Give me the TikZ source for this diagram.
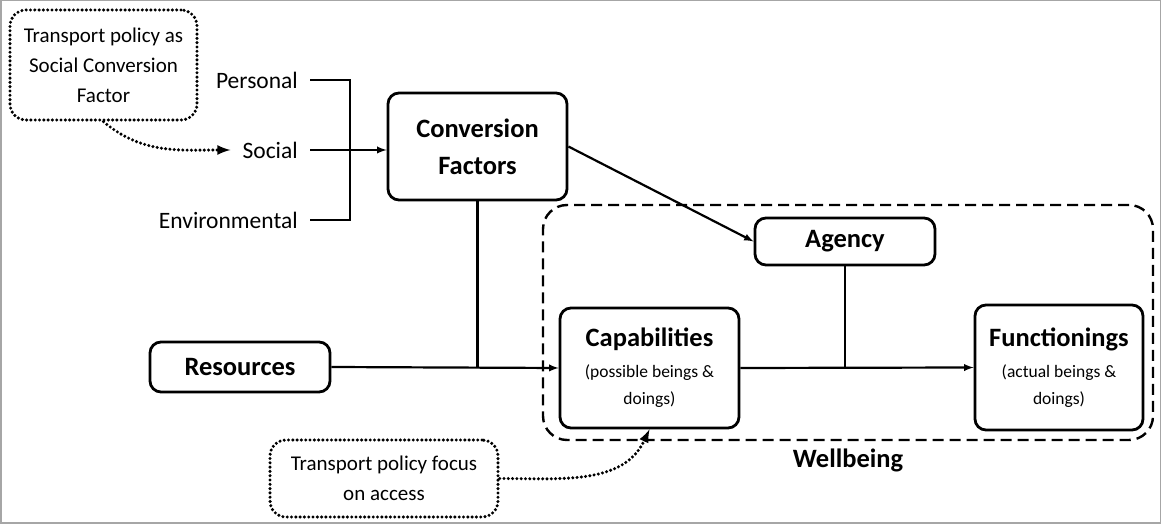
\documentclass[tikz,border=0pt]{standalone}
\usepackage{fontspec}
\setmainfont{Carlito}
\usetikzlibrary{arrows,positioning}
\tikzset{%
	block/.style    = {draw, rectangle, rounded corners=11pt, line width=2.8pt, align=center, inner sep=0pt},
	factor/.style   = {font=\fontsize{23.5}{28}\selectfont, inner xsep=12pt, inner ysep=0pt},
	note/.style     = {draw, rectangle, rounded corners=16pt, line width=3.4pt, dash pattern=on 0pt off 4.3pt, line cap=round, align=center, font=\fontsize{21}{30}\selectfont},
	wellbox/.style  = {draw, rectangle, rounded corners=24pt, line width=2.4pt, dash pattern=on 11pt off 6pt},
	link/.style     = {line width=2.2pt},
	arrow/.style    = {line width=2.2pt,-latex},
	dotarrow/.style = {line width=3.4pt, dash pattern=on 0pt off 4.3pt, line cap=round, -latex},
}
\newcommand{\hd}{\bfseries\fontsize{26.5}{37}\selectfont}
\newcommand{\pr}{\fontsize{17.5}{27}\selectfont}

\begin{document}
\begin{tikzpicture}[x=1pt,y=1pt]
	\useasboundingbox (0,0) rectangle (1161,524);
	\draw[gray!70, line width=1.5pt] (0.75,0.75) rectangle (1160.25,523.25);
	
	\node[note, minimum width=187, minimum height=110] (policyA) at (103.5,459) {Transport policy as\\Social Conversion\\Factor};
	\node[note, minimum width=228, minimum height=77] (policyB) at (384,45.5) {Transport policy focus\\on access};
	
	\node[factor, anchor=east] (personal) at (310,444) {Personal};
	\node[factor, anchor=east] (social) at (310,374) {Social};
	\node[factor, anchor=east] (environ) at (310,304) {Environmental};
	\coordinate (brk) at (350,374);
	
	\node[block, font=\hd, minimum width=179, minimum height=107] (conv) at (477.5,377.5) {Conversion\\Factors};
	\node[block, font=\hd, minimum width=180, minimum height=50] (res) at (240,157) {Resources};
	\node[wellbox, minimum width=610, minimum height=235] (wb) at (848,201.5) {};
	\node[block, font=\hd, minimum width=180, minimum height=47] (agency) at (845,282.5) {Agency};
	\node[block, font=\pr, minimum width=179, minimum height=120] (cap) at (649.5,156) {{\hd Capabilities}\\[4pt](possible beings \&\\doings)};
	\node[block, font=\pr, minimum width=168, minimum height=125] (func) at (1059,156.5) {{\hd Functionings}\\[4pt](actual beings \&\\doings)};
	\node[font=\hd] (wblabel) at (848,64) {Wellbeing};
	
	\draw[link] (personal.east) -| (brk);
	\draw[link] (environ.east) -| (brk);
	\draw[arrow] (social.east) -- (social.east -| conv.west);
	
	\draw[link] (conv.south) -- (conv.south |- res.east);
	\draw[arrow] (res.east) -- (cap.west);
	\draw[arrow] (conv.east) -- (agency.west);
	\draw[link] (agency.south) -- (agency.south |- cap.east);
	\draw[arrow] (cap.east) -- (func.west);
	
	\draw[dotarrow] (policyA.south) to[out=-40, in=180] (social.west);
	\draw[dotarrow] (policyB.east) to[out=0, in=-115] (cap.south);
	
\end{tikzpicture}
\end{document}
